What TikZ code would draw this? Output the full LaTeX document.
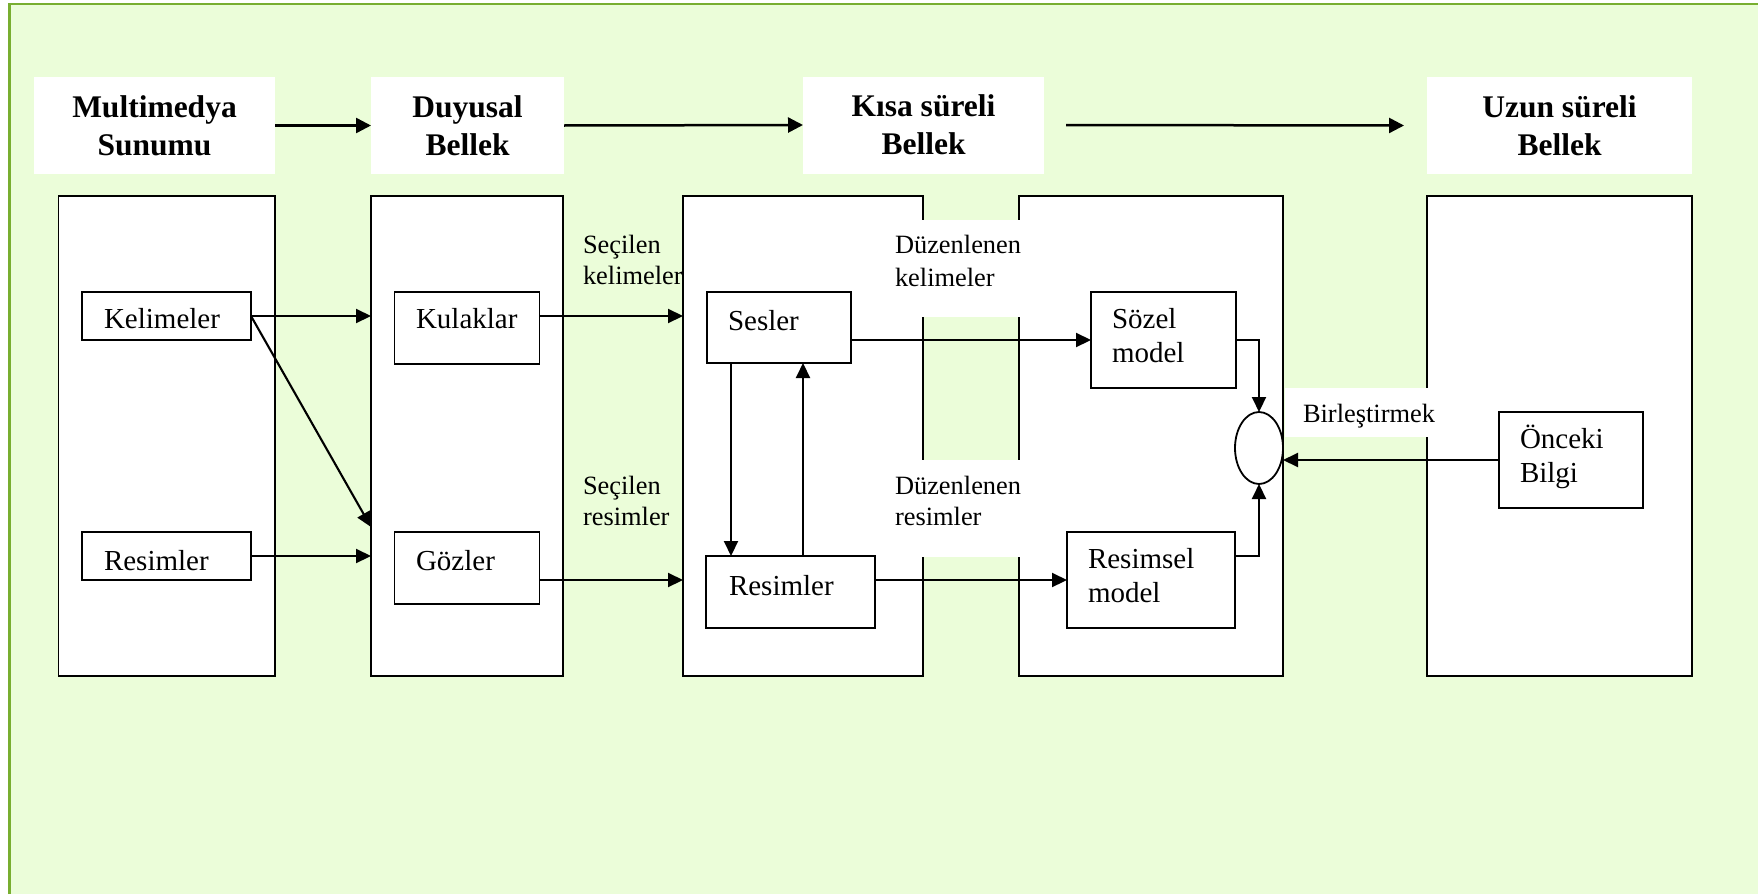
\documentclass[tikz,border=0pt]{standalone}
\usepackage{fontspec}
\setmainfont{Liberation Serif}
\usetikzlibrary{arrows.meta,shapes.geometric}
\definecolor{panelgreen}{RGB}{235,253,217}
\definecolor{framegreen}{RGB}{120,174,48}
% two lines stacked, baseline on the first line
\newcommand\twolines[2]{\vtop{\hbox{#1}\hbox{#2}}}
\begin{document}
\begin{tikzpicture}[x=1pt,y=-1pt,
  every node/.style={inner sep=0pt, outer sep=0pt},
  head/.style={fill=white, minimum height=97pt, align=center,
    font=\fontsize{31.5}{38}\selectfont\bfseries},
  stage/.style={draw=black, fill=white, line width=1.8pt, anchor=north west,
    minimum height=480pt},
  unit/.style={draw=black, fill=white, line width=1.8pt},
  patch/.style={fill=white, anchor=north west},
  txt/.style={anchor=base west, font=\fontsize{29}{34}\selectfont},
  note/.style={anchor=base west, font=\fontsize{26.4}{#1}\selectfont},
  note/.default=32,
  arr/.style={line width=2.1pt, -{Triangle[length=15pt,width=14pt]}},
  harr/.style={line width=2.5pt, -{Triangle[length=15pt,width=15pt]}}
]
\useasboundingbox (0,0) rectangle (1758,894);
% panel background and frame
\fill[white] (0,0) rectangle (1758,894);
\fill[panelgreen] (9.5,4) rectangle (1758,894);
\draw[framegreen, line width=2.2pt] (9.5,894) -- (9.5,4) -- (1758,4);

% stage headings
\node[head, minimum width=241pt] (hmm) at (154.5,125.5) {Multimedya\\Sunumu};
\node[head, minimum width=193pt] (hdu) at (467.5,125.5) {Duyusal\\Bellek};
\node[head, minimum width=241pt] (hks) at (923.5,125) {Kısa süreli\\Bellek};
\node[head, minimum width=265pt] (huz) at (1559.5,125.5) {Uzun süreli\\Bellek};

\draw[harr] (hmm.east) -- (hdu.west);
\draw[harr] (hdu.east) -- (hks.west);
\draw[harr] ([xshift=22pt]hks.east) -- ([xshift=-23pt]huz.west);

% stage columns
\node[stage, minimum width=216.5pt] (bmm) at (58.5,196) {};
\node[stage, minimum width=192pt] (bdu) at (371,196) {};
\node[stage, minimum width=240pt] (bka) at (683,196) {};
\node[stage, minimum width=264pt] (bkb) at (1019,196) {};
\node[stage, minimum width=265pt] (buz) at (1427,196) {};

% label patches over the column edges
\node[patch, minimum width=140pt, minimum height=97pt] (pk) at (880,220) {};
\node[patch, minimum width=140pt, minimum height=97pt] (pr) at (880,460) {};
\node[patch, minimum width=150pt, minimum height=49pt] (pb) at (1284.8,388) {};

% inner units
\node[unit, minimum width=169pt, minimum height=48pt] (kel) at (166.5,316) {};
\node[unit, minimum width=169pt, minimum height=48pt] (res) at (166.5,556) {};
\node[unit, minimum width=145pt, minimum height=72pt] (kul) at (467,328) {};
\node[unit, minimum width=145pt, minimum height=72pt] (goz) at (467,568) {};
\node[unit, minimum width=144pt, minimum height=71pt] (ses) at (779,327.5) {};
\node[unit, minimum width=169pt, minimum height=72pt] (resm) at (790.5,592) {};
\node[unit, minimum width=145pt, minimum height=96pt] (soz) at (1163.5,340) {};
\node[unit, minimum width=168pt, minimum height=96pt] (rsm) at (1151,580) {};
\node[unit, minimum width=144pt, minimum height=96pt] (onc) at (1571,460) {};
\node[unit, ellipse, minimum width=48pt, minimum height=72pt] (birl) at (1259,448) {};

% texts
\node[txt] (tkel) at (104,328) {Kelimeler};
\node[txt] (tres) at (104,570) {Resimler};
\node[txt] (tkul) at (416,328) {Kulaklar};
\node[txt] (tgoz) at (416,570) {Gözler};
\node[txt] (tses) at (728,330) {Sesler};
\node[txt] (tresm) at (729,595) {Resimler};
\node[txt] (tsoz) at (1112,328) {\twolines{Sözel}{model}};
\node[txt] (trsm) at (1088,568) {\twolines{Resimsel}{model}};
\node[txt] (tonc) at (1520,448) {\twolines{Önceki}{Bilgi}};
\node[note=31.5] (tsk) at (583,253) {\twolines{Seçilen}{kelimeler}};
\node[note=31.5] (tsr) at (583,494) {\twolines{Seçilen}{resimler}};
\node[note=33.5] (tdk) at (895,253) {\twolines{Düzenlenen}{kelimeler}};
\node[note=31.5] (tdr) at (895,494) {\twolines{Düzenlenen}{resimler}};
\node[note] (tbirl) at (1303,422) {Birleştirmek};

% connectors
\coordinate (eyein) at (371,527);
\draw[arr] (kel.east) -- (kel.east -| bdu.west);
\draw[arr] (kel.east) -- (eyein);
\draw[arr] (res.east) -- (res.east -| bdu.west);
\draw[arr] (kul.east |- kel.east) -- (kel.east -| bka.west);
\draw[arr] (goz.east |- rsm.west) -- (rsm.west -| bka.west);
\draw[arr] (ses.east |- soz.west) -- (soz.west);
\draw[arr] (resm.east |- rsm.west) -- (rsm.west);
\draw[arr] ([xshift=24pt]ses.south west) -- ([xshift=24pt]ses.south west |- resm.north);
\draw[arr] ([xshift=96pt]ses.south west |- resm.north) -- ([xshift=96pt]ses.south west);
\draw[arr] (soz.east) -| (birl.north);
\draw[arr] ([yshift=24pt]rsm.east) -| (birl.south);
\draw[arr] (onc.west) -- (birl.east |- onc.west);
\end{tikzpicture}
\end{document}
